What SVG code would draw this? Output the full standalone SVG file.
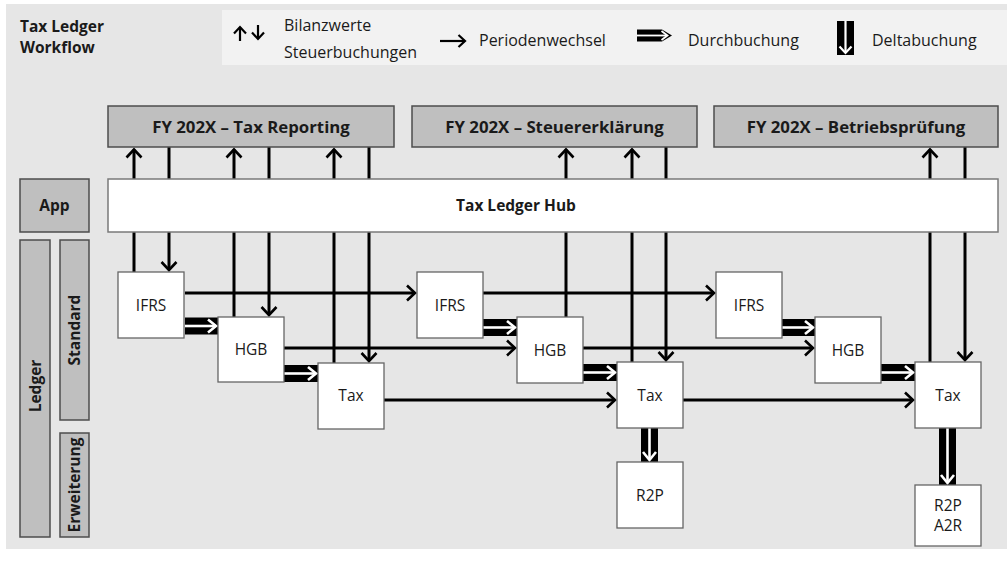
<svg xmlns="http://www.w3.org/2000/svg" width="1007" height="561" viewBox="0 0 1007 561">
  <style>
    .t{font-family:"Open Sans","Noto Sans","DejaVu Sans",sans-serif;fill:#1a1a1a;font-size:15.5px}
    .b{font-weight:bold}
    .lg{font-size:16px}
    .hd{font-size:16.8px}
    .hdr{fill:#bfbfbf;stroke:#4d4d4d;stroke-width:1.5}
    .side{fill:#bfbfbf;stroke:#4d4d4d;stroke-width:1.5}
    .hub{fill:#fff;stroke:#7a7a7a;stroke-width:1.5}
    .node{fill:#fff;stroke:#666;stroke-width:1.3}
    .thin{stroke:#000;stroke-width:3;fill:none}
    .key{stroke:#000;stroke-width:2.2;fill:none}
    .thick{stroke:#000;stroke-width:17;fill:none}
    .inner{stroke:#fff;stroke-width:2.6;fill:none}
  </style>
  <defs>
    <marker id="ah" markerUnits="userSpaceOnUse" orient="auto" overflow="visible" refX="0" refY="0" markerWidth="20" markerHeight="20">
      <path d="M-8,-7.5 L0,0 L-8,7.5" fill="none" stroke="#000" stroke-width="2.6"/>
    </marker>
    <marker id="ahk" markerUnits="userSpaceOnUse" orient="auto" overflow="visible" refX="0" refY="0" markerWidth="20" markerHeight="20">
      <path d="M-6.5,-6 L0,0 L-6.5,6" fill="none" stroke="#000" stroke-width="2.2"/>
    </marker>
    <marker id="ahw" markerUnits="userSpaceOnUse" orient="auto" overflow="visible" refX="0" refY="0" markerWidth="20" markerHeight="20">
      <path d="M-8,-6.5 L0,0 L-8,6.5" fill="none" stroke="#fff" stroke-width="2.6"/>
    </marker>
  </defs>

  <!-- canvas -->
  <rect x="6" y="4" width="1001" height="545" fill="#e6e6e6"/>

  <!-- title -->
  <g id="title">
    <text class="t b" x="20" y="32" font-size="17.5">Tax Ledger</text>
    <text class="t b" x="20" y="53" font-size="17.5">Workflow</text>
  </g>

  <!-- legend -->
  <g id="legend">
    <rect x="222" y="10" width="785" height="55" fill="#f2f2f2"/>
    <line class="key" x1="240" y1="41" x2="240" y2="27" marker-end="url(#ahk)"/>
    <line class="key" x1="258" y1="25" x2="258" y2="39" marker-end="url(#ahk)"/>
    <text class="t lg" x="284" y="31">Bilanzwerte</text>
    <text class="t lg" x="284" y="58">Steuerbuchungen</text>
    <line class="key" x1="440" y1="41" x2="465" y2="41" marker-end="url(#ahk)"/>
    <text class="t lg" x="479" y="46">Periodenwechsel</text>
    <path d="M637,29.5 H662 L672,35.5 L662,41.5 H637 Z" fill="#000"/>
    <line x1="637" y1="35.5" x2="667" y2="35.5" stroke="#fff" stroke-width="1.8"/>
    <path d="M661.5,31 L667.5,35.5 L661.5,40" fill="none" stroke="#fff" stroke-width="1.8"/>
    <text class="t lg" x="688" y="46">Durchbuchung</text>
    <rect x="837" y="21" width="17" height="34" fill="#000"/>
    <line x1="845.5" y1="21" x2="845.5" y2="52" stroke="#fff" stroke-width="2.2"/>
    <path d="M839.5,46.5 L845.5,53 L851.5,46.5" fill="none" stroke="#fff" stroke-width="2.2"/>
    <text class="t lg" x="872" y="46">Deltabuchung</text>
  </g>

  <!-- row labels -->
  <g id="lbl-app">
    <rect class="side" x="20" y="179" width="69" height="53"/>
    <text class="t b" x="54.5" y="211" text-anchor="middle">App</text>
  </g>
  <g id="lbl-ledger">
    <rect class="side" x="20" y="240" width="30" height="297"/>
    <text class="t b" transform="translate(35,386) rotate(-90)" x="0" y="5.5" text-anchor="middle">Ledger</text>
  </g>
  <g id="lbl-standard">
    <rect class="side" x="60" y="240" width="29" height="180"/>
    <text class="t b" transform="translate(74.5,330) rotate(-90)" x="0" y="5.5" text-anchor="middle">Standard</text>
  </g>
  <g id="lbl-erweiterung">
    <rect class="side" x="60" y="433" width="29" height="104"/>
    <text class="t b" transform="translate(74.5,485) rotate(-90)" x="0" y="5.5" text-anchor="middle">Erweiterung</text>
  </g>

  <!-- connectors -->
  <g id="connectors">
    <!-- hub exchange, year 1 -->
    <line class="thin" x1="134" y1="272" x2="134" y2="149.5" marker-end="url(#ah)"/>
    <line class="thin" x1="169" y1="147" x2="169" y2="270" marker-end="url(#ah)"/>
    <line class="thin" x1="234" y1="317" x2="234" y2="149.5" marker-end="url(#ah)"/>
    <line class="thin" x1="269" y1="147" x2="269" y2="315" marker-end="url(#ah)"/>
    <line class="thin" x1="334" y1="363" x2="334" y2="149.5" marker-end="url(#ah)"/>
    <line class="thin" x1="369" y1="147" x2="369" y2="361" marker-end="url(#ah)"/>
    <!-- hub exchange, year 2 -->
    <line class="thin" x1="566" y1="317" x2="566" y2="149.5" marker-end="url(#ah)"/>
    <line class="thin" x1="632" y1="362" x2="632" y2="149.5" marker-end="url(#ah)"/>
    <line class="thin" x1="666" y1="147" x2="666" y2="360" marker-end="url(#ah)"/>
    <!-- hub exchange, year 3 -->
    <line class="thin" x1="930" y1="362" x2="930" y2="149.5" marker-end="url(#ah)"/>
    <line class="thin" x1="965" y1="147" x2="965" y2="360" marker-end="url(#ah)"/>

    <!-- period roll-forward -->
    <line class="thin" x1="185" y1="293" x2="415" y2="293" marker-end="url(#ah)"/>
    <line class="thin" x1="483" y1="293" x2="714" y2="293" marker-end="url(#ah)"/>
    <line class="thin" x1="284" y1="348" x2="515" y2="348" marker-end="url(#ah)"/>
    <line class="thin" x1="583" y1="348" x2="813" y2="348" marker-end="url(#ah)"/>
    <line class="thin" x1="384" y1="400" x2="615" y2="400" marker-end="url(#ah)"/>
    <line class="thin" x1="683" y1="400" x2="913" y2="400" marker-end="url(#ah)"/>

    <!-- pass-through postings -->
    <line class="thick" x1="185" y1="326" x2="218" y2="326"/>
    <line class="inner" x1="185" y1="326" x2="216" y2="326" marker-end="url(#ahw)"/>
    <line class="thick" x1="284" y1="373.5" x2="318" y2="373.5"/>
    <line class="inner" x1="284" y1="373.5" x2="316" y2="373.5" marker-end="url(#ahw)"/>
    <line class="thick" x1="483" y1="327.5" x2="517" y2="327.5"/>
    <line class="inner" x1="483" y1="327.5" x2="515" y2="327.5" marker-end="url(#ahw)"/>
    <line class="thick" x1="583" y1="372.5" x2="617" y2="372.5"/>
    <line class="inner" x1="583" y1="372.5" x2="615" y2="372.5" marker-end="url(#ahw)"/>
    <line class="thick" x1="782" y1="327.5" x2="815" y2="327.5"/>
    <line class="inner" x1="782" y1="327.5" x2="813" y2="327.5" marker-end="url(#ahw)"/>
    <line class="thick" x1="881" y1="372.5" x2="915" y2="372.5"/>
    <line class="inner" x1="881" y1="372.5" x2="913" y2="372.5" marker-end="url(#ahw)"/>

    <!-- delta postings -->
    <line class="thick" x1="649.5" y1="428" x2="649.5" y2="462"/>
    <line class="inner" x1="649.5" y1="428" x2="649.5" y2="460" marker-end="url(#ahw)"/>
    <line class="thick" x1="947.5" y1="428" x2="947.5" y2="485"/>
    <line class="inner" x1="947.5" y1="428" x2="947.5" y2="483" marker-end="url(#ahw)"/>
  </g>

  <!-- reporting targets -->
  <g id="fy-reporting">
    <rect class="hdr" x="108" y="106" width="286" height="41"/>
    <text class="t b hd" x="251" y="132.5" text-anchor="middle">FY 202X – Tax Reporting</text>
  </g>
  <g id="fy-erklaerung">
    <rect class="hdr" x="412" y="106" width="285" height="41"/>
    <text class="t b hd" x="554.5" y="132.5" text-anchor="middle">FY 202X – Steuererklärung</text>
  </g>
  <g id="fy-pruefung">
    <rect class="hdr" x="714" y="106" width="284" height="41"/>
    <text class="t b hd" x="856" y="132.5" text-anchor="middle">FY 202X – Betriebsprüfung</text>
  </g>

  <!-- hub -->
  <g id="hub">
    <rect class="hub" x="108" y="179" width="890" height="53"/>
    <text class="t b" x="516" y="211" text-anchor="middle" font-size="16">Tax Ledger Hub</text>
  </g>

  <!-- ledgers, year 1 -->
  <g id="ifrs-1"><rect class="node" x="118" y="272" width="66" height="66"/><text class="t" x="151" y="310.5" text-anchor="middle">IFRS</text></g>
  <g id="hgb-1"><rect class="node" x="218" y="317" width="66" height="65"/><text class="t" x="251" y="355" text-anchor="middle">HGB</text></g>
  <g id="tax-1"><rect class="node" x="318" y="363" width="66" height="66"/><text class="t" x="351" y="401" text-anchor="middle">Tax</text></g>

  <!-- ledgers, year 2 -->
  <g id="ifrs-2"><rect class="node" x="417" y="272" width="66" height="66"/><text class="t" x="450" y="310.5" text-anchor="middle">IFRS</text></g>
  <g id="hgb-2"><rect class="node" x="517" y="317" width="66" height="66"/><text class="t" x="550" y="355.5" text-anchor="middle">HGB</text></g>
  <g id="tax-2"><rect class="node" x="617" y="362" width="66" height="66"/><text class="t" x="650" y="400.5" text-anchor="middle">Tax</text></g>
  <g id="r2p-2"><rect class="node" x="617" y="462" width="66" height="66"/><text class="t" x="650" y="500.5" text-anchor="middle">R2P</text></g>

  <!-- ledgers, year 3 -->
  <g id="ifrs-3"><rect class="node" x="716" y="272" width="66" height="66"/><text class="t" x="749" y="310.5" text-anchor="middle">IFRS</text></g>
  <g id="hgb-3"><rect class="node" x="815" y="317" width="66" height="66"/><text class="t" x="848" y="355.5" text-anchor="middle">HGB</text></g>
  <g id="tax-3"><rect class="node" x="915" y="362" width="66" height="66"/><text class="t" x="948" y="400.5" text-anchor="middle">Tax</text></g>
  <g id="r2p-a2r-3"><rect class="node" x="915" y="485" width="66" height="61"/><text class="t" x="948" y="511" text-anchor="middle">R2P</text><text class="t" x="948" y="531" text-anchor="middle">A2R</text></g>
</svg>
